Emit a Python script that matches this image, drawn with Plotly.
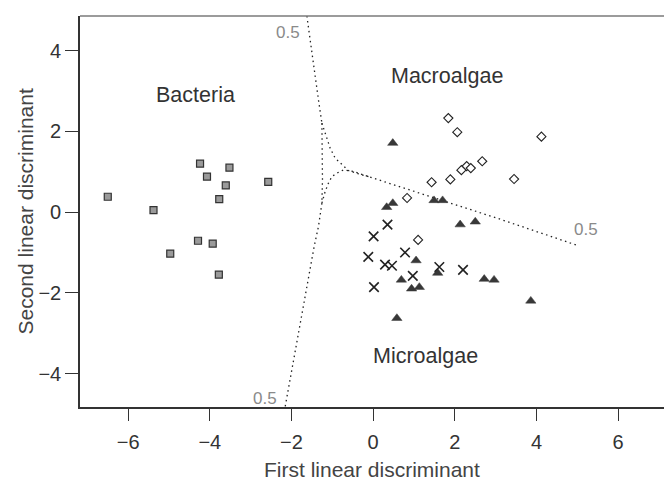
import plotly.graph_objects as go

# ---- data ----
bacteria_x = [-6.50, -5.38, -4.24, -3.52, -4.07, -3.61, -2.57, -3.77, -4.29, -3.93, -4.97, -3.78]
bacteria_y = [0.38, 0.05, 1.20, 1.10, 0.88, 0.66, 0.75, 0.32, -0.71, -0.78, -1.03, -1.55]

macro_x = [1.84, 2.06, 4.12, 2.67, 2.29, 2.39, 2.16, 1.89, 3.45, 1.43, 0.83, 1.10]
macro_y = [2.33, 1.98, 1.87, 1.26, 1.14, 1.09, 1.04, 0.81, 0.82, 0.74, 0.35, -0.69]

micro_x = [0.48, 0.33, 0.48, 1.49, 1.70, 2.13, 2.50, 1.05, 0.69, 0.94, 1.13, 1.58, 2.72, 2.96, 3.86, 0.58]
micro_y = [1.71, 0.12, 0.22, 0.29, 0.29, -0.31, -0.24, -1.20, -1.68, -1.90, -1.86, -1.51, -1.66, -1.68, -2.20, -2.63]

cross_x = [0.35, 0.01, -0.12, 0.29, 0.46, 0.78, 0.97, 1.62, 2.20, 0.02]
cross_y = [-0.31, -0.60, -1.11, -1.30, -1.33, -1.00, -1.58, -1.36, -1.43, -1.86]

# 0.5 probability contours (decision boundaries)
top_x = [-1.624, -1.462, -1.340, -1.256]
top_y = [4.859, 3.604, 2.780, 2.203]
bact_mid_x = [-1.256, -1.242, -1.232, -1.242, -1.256]
bact_mid_y = [2.203, 1.542, 1.129, 0.800, 0.223]
macro_curve_x = [-1.256, -1.176, -1.053, -0.931, -0.808, -0.605, -0.360, -0.073]
macro_curve_y = [2.203, 1.955, 1.584, 1.337, 1.213, 1.030, 0.948, 0.866]
micro_curve_x = [-1.256, -1.217, -1.176, -1.095, -1.012, -0.889, -0.727, -0.482, -0.073]
micro_curve_y = [0.223, 0.386, 0.510, 0.718, 0.881, 0.965, 1.047, 1.005, 0.866]
right_x = [-0.073, 0.336, 3.030, 5.028]
right_y = [0.866, 0.733, -0.149, -0.834]
bottom_x = [-1.256, -1.340, -1.445, -1.854, -2.155]
bottom_y = [0.223, -0.356, -0.851, -3.161, -4.819]

region_labels = ["Bacteria", "Macroalgae", "Microalgae"]
region_x = [-4.36, 1.81, 1.29]
region_y = [2.90, 3.37, -3.57]

contour_label = "0.5"
contour_lab_x = [-2.09, 5.22, -2.66]
contour_lab_y = [4.46, -0.44, -4.62]

x_ticks = [-6, -4, -2, 0, 2, 4, 6]
y_ticks = [-4, -2, 0, 2, 4]
x_range = [-7.18, 7.22]
y_range = [-4.83, 4.86]

FONT = "Liberation Sans, Arial, sans-serif"

fig = go.Figure()

line_style = dict(color="#222222", width=1.3, dash="1.5px,3.5px")
for lx, ly in [(top_x, top_y), (bact_mid_x, bact_mid_y), (macro_curve_x, macro_curve_y),
               (micro_curve_x, micro_curve_y), (right_x, right_y), (bottom_x, bottom_y)]:
    fig.add_trace(go.Scatter(x=lx, y=ly, mode="lines", line=line_style,
                             hoverinfo="skip", showlegend=False))

fig.add_trace(go.Scatter(x=bacteria_x, y=bacteria_y, mode="markers", showlegend=False,
                         marker=dict(symbol="square", size=7, color="#9a9a9a",
                                     line=dict(color="#333333", width=1.2))))
fig.add_trace(go.Scatter(x=macro_x, y=macro_y, mode="markers", showlegend=False,
                         marker=dict(symbol="diamond", size=7, color="white",
                                     line=dict(color="#222222", width=1.1))))
fig.add_trace(go.Scatter(x=micro_x, y=micro_y, mode="markers", showlegend=False,
                         marker=dict(symbol="triangle-up", size=9, color="#383838",
                                     line=dict(color="#383838", width=0.5))))
fig.add_trace(go.Scatter(x=cross_x, y=cross_y, mode="markers", showlegend=False,
                         marker=dict(symbol="x-thin", size=9.5, color="#222222",
                                     line=dict(color="#222222", width=1.6))))

for t, x, y in zip(region_labels, region_x, region_y):
    fig.add_annotation(x=x, y=y, text=t, showarrow=False,
                       font=dict(family=FONT, size=21.5, color="#333333"))
for x, y in zip(contour_lab_x, contour_lab_y):
    fig.add_annotation(x=x, y=y, text=contour_label, showarrow=False,
                       font=dict(family=FONT, size=17, color="#8a8a8a"))

# axis titles
fig.add_annotation(x=(80 + 664) / 2 / 668 * 668 / 588 - 80 / 588, y=0, xref="paper", yref="paper",
                   yanchor="middle", yshift=-62,
                   text="First linear discriminant", showarrow=False,
                   font=dict(family=FONT, size=21, color="#444444"))
fig.add_annotation(x=0, y=0.5, xref="paper", yref="paper", xanchor="center", xshift=-55,
                   text="Second linear discriminant", showarrow=False, textangle=-90,
                   font=dict(family=FONT, size=21, color="#444444"))

# top border (lighter)
fig.add_shape(type="line", xref="paper", yref="paper", x0=0, x1=1, y0=1, y1=1,
              line=dict(color="#7a7a7a", width=1.6))

fig.update_xaxes(range=x_range, tickvals=x_ticks, showgrid=False, zeroline=False,
                 showline=True, linecolor="#333333", linewidth=1.6,
                 ticks="outside", ticklen=12, tickwidth=1.4, tickcolor="#333333",
                 tickfont=dict(family=FONT, size=20, color="#333333"),
                 ticklabelstandoff=4)
fig.update_yaxes(range=y_range, tickvals=y_ticks, showgrid=False, zeroline=False,
                 showline=True, linecolor="#333333", linewidth=1.6,
                 ticks="outside", ticklen=13, tickwidth=1.4, tickcolor="#333333",
                 tickfont=dict(family=FONT, size=20, color="#333333"),
                 ticklabelstandoff=0)

fig.update_layout(width=668, height=481, margin=dict(l=80, r=0, t=16, b=74),
                  plot_bgcolor="white", paper_bgcolor="white", showlegend=False)

fig.write_html("out.html", config={"displayModeBar": False},
               post_script="document.body.style.margin='0px';document.body.style.padding='0px';"
                           "document.documentElement.style.overflow='hidden';"
                           "document.body.style.overflow='hidden';")
